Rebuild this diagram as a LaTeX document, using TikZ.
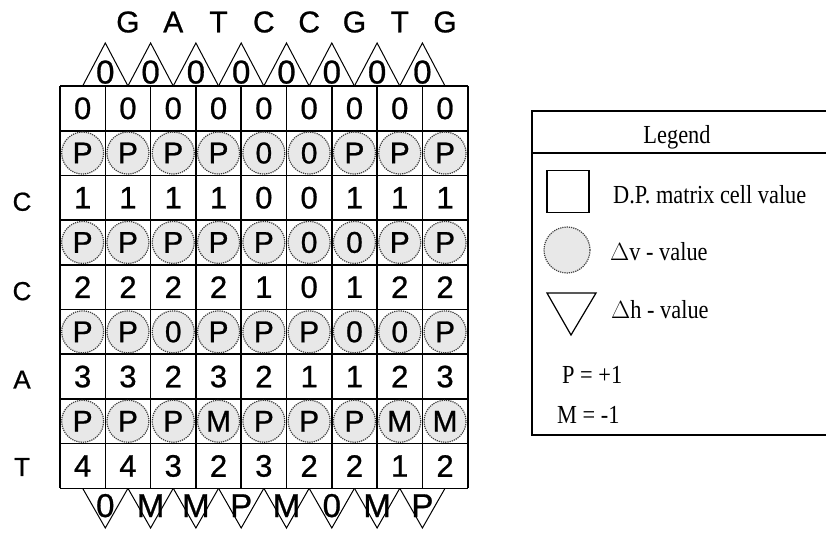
\documentclass[tikz,border=0pt]{standalone}
\usepackage{fontspec}
\setmainfont{Liberation Serif}
\newfontfamily\gridfont[FakeBold=0.8]{Liberation Sans}
\newfontfamily\legfont[FakeStretch=0.86]{Liberation Serif}
\newcommand\valrow[2]{%
  \foreach \v [count=\i] in {#2} {%
    \node[cellval] (v#1-\i) at ({60+45.3*(\i-0.5)},{86+44.7*(#1+0.5)}) {\v};
  }}
\newcommand\circrow[2]{%
  \foreach \v [count=\i] in {#2} {%
    \node[dvcirc] (c#1-\i) at ({60+45.3*(\i-0.5)},{86+44.7*(#1+0.5)}) {\v};
  }}
\begin{document}
\begin{tikzpicture}[x=1pt,y=-1pt,
  cellval/.style={font=\gridfont\fontsize{31}{31}\selectfont, inner sep=0pt},
  dvcirc/.style={circle, minimum size=42pt, inner sep=0pt, draw=black!75,
     densely dotted, line width=1.2pt, fill=gray!18,
     font=\gridfont\fontsize{30}{30}\selectfont},
  trival/.style={font=\gridfont\fontsize{33}{33}\selectfont, inner sep=0pt, anchor=base},
  seqlab/.style={font=\gridfont\fontsize{30}{30}\selectfont, inner sep=0pt},
  rowlab/.style={font=\gridfont\fontsize{26}{26}\selectfont, inner sep=0pt},
  gridline/.style={line width=1.6pt},
  triline/.style={line width=1pt},
  legtext/.style={font=\legfont\fontsize{26}{26}\selectfont, inner sep=0pt, anchor=base west}]
\useasboundingbox (0,0) rectangle (826,532);

% grid lines
\foreach \k in {0,...,9} {
  \draw[gridline] ({60+45.3*\k},86) -- ({60+45.3*\k},488.3);
  \draw[gridline] (60,{86+44.7*\k}) -- (467.7,{86+44.7*\k});
}

% sequence labels
\foreach \s [count=\i from 2] in {G,A,T,C,C,G,T,G}
  \node[seqlab] (top\i) at ({60+45.3*(\i-0.5)},22) {\s};
\node[rowlab] (l1) at (22,{86+44.7*2.5+4}) {C};
\node[rowlab] (l2) at (22,{86+44.7*4.5+4}) {C};
\node[rowlab] (l3) at (22,{86+44.7*6.5+3}) {A};
\node[rowlab] (l4) at (22,{86+44.7*8.5+1}) {T};

% values
\valrow{0}{0,0,0,0,0,0,0,0,0}
\valrow{2}{1,1,1,1,0,0,1,1,1}
\valrow{4}{2,2,2,2,1,0,1,2,2}
\valrow{6}{3,3,2,3,2,1,1,2,3}
\valrow{8}{4,4,3,2,3,2,2,1,2}

% delta v circles
\circrow{1}{P,P,P,P,0,0,P,P,P}
\circrow{3}{P,P,P,P,P,0,0,P,P}
\circrow{5}{P,P,0,P,P,P,0,0,P}
\circrow{7}{P,P,P,M,P,P,P,M,M}

% top triangles
\foreach \k in {1,...,8} {
  \draw[triline] ({60+45.3*\k-22.65},86) -- ({60+45.3*\k},43) -- ({60+45.3*\k+22.65},86);
  \node[trival] (tt\k) at ({60+45.3*\k},83.5) {0};
}
% bottom triangles
\foreach \s [count=\k] in {0,M,M,P,M,0,M,P} {
  \draw[triline] ({60+45.3*\k-22.65},488.3) -- ({60+45.3*\k},528) -- ({60+45.3*\k+22.65},488.3);
  \node[trival] (bt\k) at ({60+45.3*\k},517) {\s};
}

% legend
\draw[line width=1.5pt] (532,111) rectangle (845,435);
\draw[line width=1.5pt] (532,153) -- (845,153);
\node[font=\legfont\fontsize{26}{26}\selectfont, inner sep=0pt, anchor=base] (leg) at (677,143) {Legend};
\node[draw, line width=1.2pt, minimum size=42pt, inner sep=0pt] (sq) at (568,191.5) {};
\node[legtext] (t1) at (613,203) {D.P. matrix cell value};
\node[circle, minimum size=46pt, inner sep=0pt, draw=black!75, densely dotted, line width=1.2pt, fill=gray!18] (lc) at (567,250) {};
\node[legtext] (t2) at (610,260) {$\Delta$v - value};
\draw[line width=1.2pt] (547,293) -- (596,293) -- (571,335) -- cycle;
\node[legtext] (t3) at (611,318) {$\Delta$h - value};
\node[legtext] (t4) at (562,383) {P = +1};
\node[legtext] (t5) at (557,423) {M = -1};
\end{tikzpicture}
\end{document}
